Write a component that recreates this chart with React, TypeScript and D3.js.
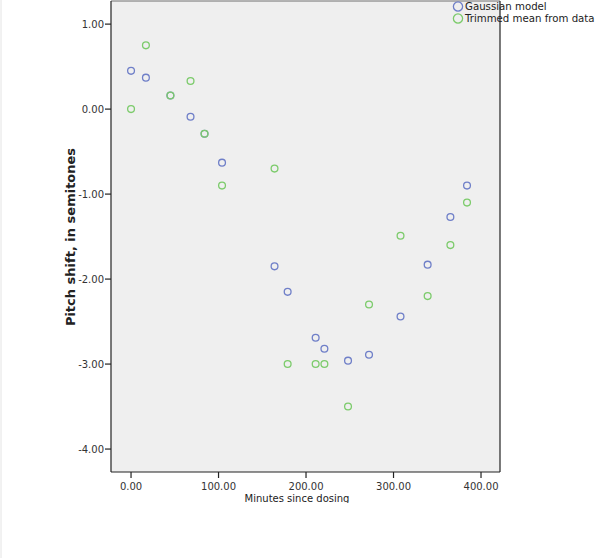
import * as d3 from "d3";

// minutes since dosing, shared by both series
const minutes = [0, 17, 45, 68, 84, 104, 164, 179, 211, 221, 248, 272, 308, 339, 365, 384];
const gaussianModel = [0.45, 0.37, 0.16, -0.09, -0.29, -0.63, -1.85, -2.15, -2.69, -2.82, -2.96, -2.89, -2.44, -1.83, -1.27, -0.9];
const trimmedMean = [0.0, 0.75, 0.16, 0.33, -0.29, -0.9, -0.7, -3.0, -3.0, -3.0, -3.5, -2.3, -1.49, -2.2, -1.6, -1.1];
const xTicks = [0, 100, 200, 300, 400];
const yTicks = [1, 0, -1, -2, -3, -4];
const seriesNames = ["Gaussian model", "Trimmed mean from data"];
const seriesColors = ["#6f7fc8", "#7ccb6b"];

const width = 605;
const height = 558;
const plot = { left: 111, right: 500, top: 1, bottom: 472 };
const font = "'DejaVu Sans', sans-serif";

export default function App() {
  const x = d3.scaleLinear().domain([-22.9, 421.7]).range([plot.left, plot.right]);
  const y = d3.scaleLinear().domain([1.272, -4.27]).range([plot.top, plot.bottom]);
  // d3 uses a unicode minus; the original shows a plain hyphen
  const fmt = (v: number) => d3.format(".2f")(v).replace("\u2212", "-");
  const series = [gaussianModel, trimmedMean];

  return (
    <svg
      width={width}
      height={height}
      style={{ position: "absolute", left: 0, top: 0, background: "#fff" }}
    >
      <defs>
        <clipPath id="page-clip">
          <rect x={0} y={0} width={width} height={503} />
        </clipPath>
      </defs>
      <line x1={1} x2={1} y1={0} y2={height} stroke="#e4e4e4" />

      <rect
        x={plot.left}
        y={plot.top}
        width={plot.right - plot.left}
        height={plot.bottom - plot.top}
        fill="#efefef"
      />
      <line x1={plot.left} x2={plot.right} y1={plot.top} y2={plot.top} stroke="#9a9a9a" strokeWidth={1.5} />
      <line x1={plot.right} x2={plot.right} y1={plot.top} y2={plot.bottom} stroke="#222" strokeWidth={1.2} />

      {series.map((vals, si) => (
        <g key={si}>
          {vals.map((v, i) => (
            <circle
              key={i}
              cx={x(minutes[i])}
              cy={y(v)}
              r={3.4}
              fill="none"
              stroke={seriesColors[si]}
              strokeWidth={1.3}
            />
          ))}
        </g>
      ))}

      {/* y axis */}
      <line x1={plot.left} x2={plot.left} y1={plot.top} y2={plot.bottom} stroke="#222" strokeWidth={1.2} />
      {yTicks.map((t) => (
        <g key={t} transform={`translate(0,${y(t)})`}>
          <line x1={plot.left - 6} x2={plot.left} stroke="#222" strokeWidth={1.2} />
          <text
            x={plot.left - 7}
            dy="0.35em"
            textAnchor="end"
            fontFamily={font}
            fontSize={10}
            fill="#333"
          >
            {fmt(t)}
          </text>
        </g>
      ))}

      {/* x axis */}
      <line x1={plot.left} x2={plot.right} y1={plot.bottom} y2={plot.bottom} stroke="#222" strokeWidth={1.2} />
      {xTicks.map((t) => (
        <g key={t} transform={`translate(${x(t)},0)`}>
          <line y1={plot.bottom} y2={plot.bottom + 6} stroke="#222" strokeWidth={1.2} />
          <text y={plot.bottom + 18} textAnchor="middle" fontFamily={font} fontSize={10} fill="#333">
            {fmt(t)}
          </text>
        </g>
      ))}

      <g clipPath="url(#page-clip)">
        <text x={297} y={502} textAnchor="middle" fontFamily={font} fontSize={10} fill="#222">
          Minutes since dosing
        </text>
      </g>
      <text
        transform="translate(75,237) rotate(-90)"
        textAnchor="middle"
        fontFamily={font}
        fontSize={13}
        fontWeight="bold"
        fill="#222"
      >
        Pitch shift, in semitones
      </text>

      {/* legend */}
      {seriesNames.map((name, i) => (
        <g key={name} transform={`translate(458,${6.5 + i * 12})`}>
          <circle r={4.6} fill="none" stroke={seriesColors[i]} strokeWidth={1.3} />
          <text x={7} dy="0.35em" fontFamily={font} fontSize={10.2} fill="#222">
            {name}
          </text>
        </g>
      ))}
    </svg>
  );
}
